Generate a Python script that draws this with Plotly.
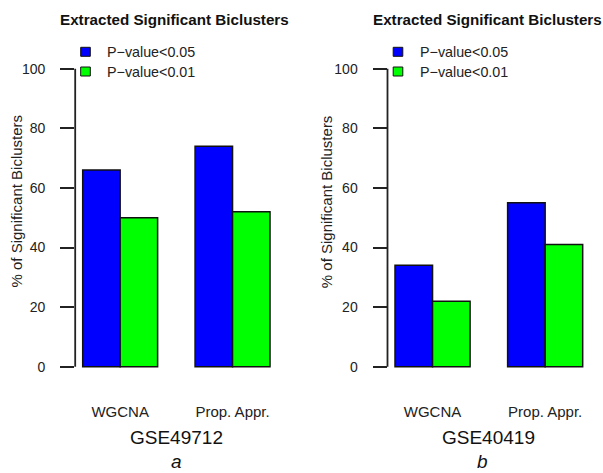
import plotly.graph_objects as go

W, H = 603, 473

methods = ["WGCNA", "Prop. Appr."]
series_names = ["P\u2212value&lt;0.05", "P\u2212value&lt;0.01"]
colors = ["#0000FF", "#00FF00"]
panel_a_p05 = [66, 74]
panel_a_p01 = [50, 52]
panel_b_p05 = [34, 55]
panel_b_p01 = [22, 41]
datasets = ["GSE49712", "GSE40419"]
panel_letters = ["a", "b"]
y_ticks = [0, 20, 40, 60, 80, 100]
chart_title = "Extracted Significant Biclusters"
y_title = "% of Significant Biclusters"

FONT = "Liberation Sans, Arial, sans-serif"
TXT = "#222222"
DARK = "#111111"


def px_x(p):
    return p / W


def px_y(p):
    return 1 - p / H


fig = go.Figure()

panels = [(panel_a_p05, panel_a_p01), (panel_b_p05, panel_b_p01)]
x_domains = [[px_x(75.2), px_x(277.5)], [px_x(387.5), px_x(590.2)]]
y_domain = [px_y(378.6), px_y(56.8)]

for i, (s05, s01) in enumerate(panels):
    xa = "x" if i == 0 else "x2"
    ya = "y" if i == 0 else "y2"
    for name, vals, col in zip(series_names, [s05, s01], colors):
        fig.add_trace(go.Bar(
            x=methods, y=vals, name=name, xaxis=xa, yaxis=ya,
            marker=dict(color=col, line=dict(color=DARK, width=1.5)),
            hoverinfo="y", showlegend=False,
        ))

layout = dict(
    width=W, height=H, autosize=False,
    margin=dict(l=0, r=0, t=0, b=0),
    paper_bgcolor="white", plot_bgcolor="white",
    barmode="group", bargap=1/3, bargroupgap=0,
    font=dict(family=FONT, size=15, color=TXT),
    showlegend=False,
)

for i in range(2):
    sx = "" if i == 0 else "2"
    layout["xaxis" + sx] = dict(
        domain=x_domains[i], range=[-0.4, 1.4], type="category",
        showline=False, showgrid=False, zeroline=False, ticks="",
        tickfont=dict(size=15, color=TXT, family=FONT),
        ticklabelstandoff=22, anchor="y" + sx, fixedrange=True,
    )
    layout["yaxis" + sx] = dict(
        domain=y_domain, range=[-4, 104], anchor="x" + sx,
        showline=False, showgrid=False, zeroline=False,
        tickmode="array", tickvals=y_ticks,
        ticks="outside", ticklen=14, tickwidth=1.6, tickcolor=TXT,
        tickfont=dict(size=14, color=TXT, family=FONT),
        ticklabelstandoff=12, fixedrange=True,
    )

fig.update_layout(**layout)

# y axis lines spanning 0..100 as in base R
for i in range(2):
    sx = "" if i == 0 else "2"
    fig.add_shape(type="line", xref="x%s domain" % sx, yref="y" + sx,
                  x0=0, x1=0, y0=y_ticks[0], y1=y_ticks[-1],
                  line=dict(color=TXT, width=1.8))

# legends (base-R style: small boxed squares)
legend_box_x = [85.5, 398.0]
legend_text_x = [104.5, 417.5]
legend_rows_y = [51.8, 71.5]
for i in range(2):
    for j, (name, col) in enumerate(zip(series_names, colors)):
        cy = legend_rows_y[j]
        cx = legend_box_x[i]
        fig.add_shape(type="rect", xref="paper", yref="paper",
                      x0=px_x(cx - 4.8), x1=px_x(cx + 4.8),
                      y0=px_y(cy + 4.5), y1=px_y(cy - 4.5),
                      fillcolor=col, line=dict(color=DARK, width=1))
        fig.add_annotation(text=name, x=px_x(legend_text_x[i]), y=px_y(cy),
                           xref="paper", yref="paper", showarrow=False,
                           xanchor="left", yanchor="middle",
                           font=dict(size=14.3, color=TXT, family=FONT))

title_x = [174.7, 487.0]
ylab_x = [16, 326.7]
xlab_x = [176.5, 488.8]
letter_x = [176.7, 482.5]
for i in range(2):
    fig.add_annotation(text="<b>%s</b>" % chart_title, x=px_x(title_x[i]), y=px_y(19.5),
                       xref="paper", yref="paper", showarrow=False,
                       xanchor="center", yanchor="middle",
                       font=dict(size=15.2, color=DARK, family=FONT))
    fig.add_annotation(text=y_title, x=px_x(ylab_x[i]), y=px_y(201.5),
                       xref="paper", yref="paper", showarrow=False, textangle=-90,
                       xanchor="center", yanchor="middle",
                       font=dict(size=15, color=TXT, family=FONT))
    fig.add_annotation(text=datasets[i], x=px_x(xlab_x[i]), y=px_y(437.3),
                       xref="paper", yref="paper", showarrow=False,
                       xanchor="center", yanchor="middle",
                       font=dict(size=19, color=DARK, family=FONT))
    fig.add_annotation(text="<i>%s</i>" % panel_letters[i], x=px_x(letter_x[i]), y=px_y(461),
                       xref="paper", yref="paper", showarrow=False,
                       xanchor="center", yanchor="middle",
                       font=dict(size=19, color=DARK, family=FONT))

fig.write_html("out.html", config={"displayModeBar": False},
               post_script="document.body.style.margin='0';document.body.style.overflow='hidden';")
